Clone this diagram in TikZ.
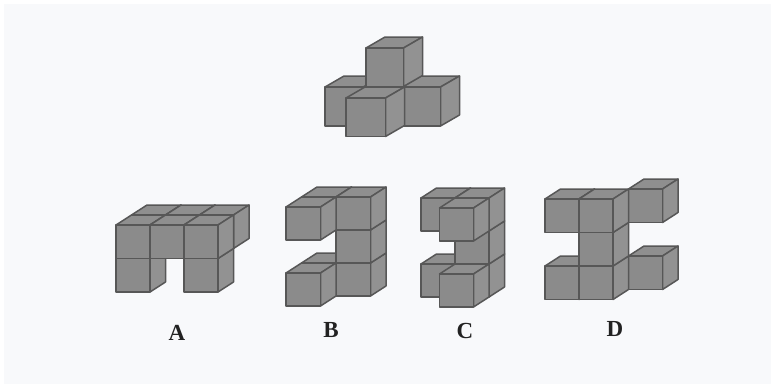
\documentclass[tikz,border=0pt]{standalone}
\usepackage{fontspec}
\setmainfont{Liberation Serif}
\definecolor{panel}{HTML}{F8F9FB}
\definecolor{cubeedge}{HTML}{575757}
\definecolor{cubefront}{HTML}{8B8B8B}
\definecolor{cubeside}{HTML}{929292}
\definecolor{cubetop}{HTML}{8F8F8F}
\definecolor{labelink}{HTML}{222222}
\tikzset{
  cubeline/.style={draw=cubeedge,line width=1.5pt,line join=round},
  figlabel/.style={text=labelink,font=\fontsize{23}{23}\selectfont\bfseries,inner sep=0pt}
}
% current figure geometry: origin, face width/height, depth offset
\newcommand{\setfig}[6]{\def\OX{#1}\def\OY{#2}\def\W{#3}\def\Hh{#4}\def\DX{#5}\def\DY{#6}}
% cube at column, depth (back), level (downwards)
\newcommand{\cubeat}[3]{%
  \begin{scope}[shift={({\OX+#1*\W+#2*\DX},{\OY+#3*\Hh-#2*\DY})}]
    \path[cubeline,fill=cubetop] (0,0) -- (\DX,-\DY) -- ({\W+\DX},-\DY) -- (\W,0) -- cycle;
    \path[cubeline,fill=cubeside] (\W,0) -- ({\W+\DX},-\DY) -- ({\W+\DX},{\Hh-\DY}) -- (\W,\Hh) -- cycle;
    \path[cubeline,fill=cubefront] (0,0) rectangle (\W,\Hh);
  \end{scope}}
\begin{document}
\begin{tikzpicture}[x=1pt,y=-1pt]
\useasboundingbox (0,0) rectangle (775,388);
\fill[white] (0,0) rectangle (775,388);
\fill[panel] (4,4) rectangle (771,384);

% top figure
\setfig{325}{87}{38.5}{39}{19}{11}
\cubeat{0}{0}{0}
\cubeat{2}{0}{0}
\setfig{366}{48}{37.5}{38.5}{19}{11}
\cubeat{0}{0}{0}
\setfig{346}{98}{39.5}{38.5}{19}{11}
\cubeat{0}{0}{0}

% A
\setfig{116}{225}{34}{33.5}{15.5}{10}
\cubeat{0}{1}{0}\cubeat{1}{1}{0}\cubeat{2}{1}{0}
\cubeat{0}{0}{1}\cubeat{2}{0}{1}
\cubeat{0}{0}{0}\cubeat{1}{0}{0}\cubeat{2}{0}{0}

% B
\setfig{286}{207}{34.5}{33}{15.5}{10}
\cubeat{0}{1}{2}\cubeat{1}{1}{2}
\cubeat{1}{1}{1}
\cubeat{0}{1}{0}\cubeat{1}{1}{0}
\cubeat{0}{0}{2}
\cubeat{0}{0}{0}

% C
\setfig{405.5}{208}{34}{33}{15.5}{10}
\cubeat{0}{1}{2}\cubeat{1}{1}{2}
\cubeat{1}{1}{1}
\cubeat{0}{1}{0}\cubeat{1}{1}{0}
\cubeat{1}{0}{2}
\cubeat{1}{0}{0}

% D
\setfig{545}{199}{34}{33.5}{15.5}{10}
\cubeat{2}{1}{2}
\cubeat{2}{1}{0}
\cubeat{0}{0}{2}\cubeat{1}{0}{2}
\cubeat{1}{0}{1}
\cubeat{0}{0}{0}\cubeat{1}{0}{0}

\node[figlabel] (labA) at (177,333) {A};
\node[figlabel] (labB) at (331,330) {B};
\node[figlabel] (labC) at (465,331) {C};
\node[figlabel] (labD) at (615,329) {D};
\end{tikzpicture}
\end{document}
